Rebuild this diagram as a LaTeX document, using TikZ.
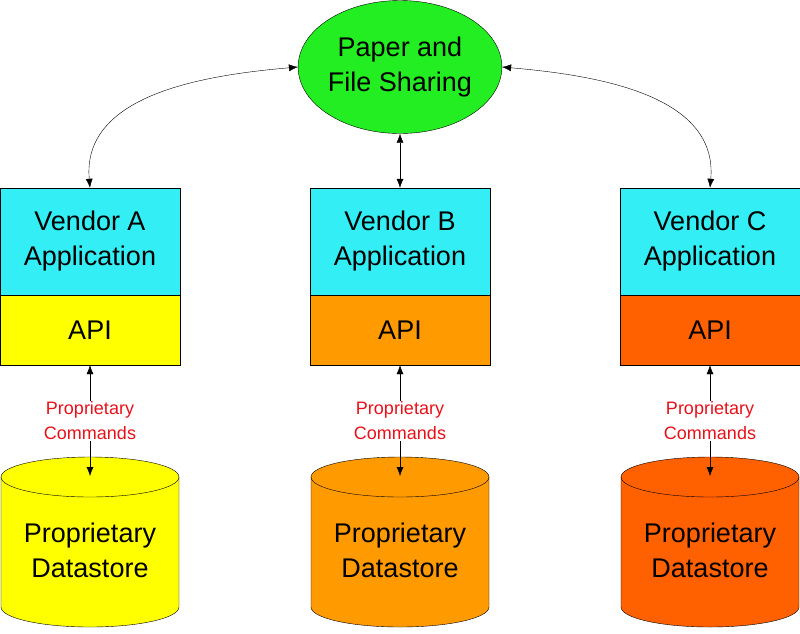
\documentclass[tikz,border=0pt]{standalone}
\usepackage{fontspec}
\setmainfont{Liberation Sans}
\usetikzlibrary{arrows.meta,shapes.geometric}
\definecolor{sharegreen}{HTML}{22EE22}
\definecolor{appcyan}{HTML}{33EEF4}
\definecolor{vendA}{HTML}{FFFF00}
\definecolor{vendB}{HTML}{FF9A00}
\definecolor{vendC}{HTML}{FF6000}
\definecolor{cmdred}{HTML}{E8101A}
\tikzset{
  big/.style={font=\fontsize{27}{35}\selectfont},
  appbox/.style={draw, fill=appcyan, minimum width=180, minimum height=107, inner sep=0, align=center, big},
  apibox/.style={draw, minimum width=180, minimum height=70, inner sep=0, big},
  cmd/.style={text=cmdred, align=center, inner sep=1pt, font=\fontsize{18}{25}\selectfont},
  arr/.style={-{Latex[length=9pt,width=7pt]}, thin},
  darr/.style={{Latex[length=9pt,width=7pt]}-{Latex[length=9pt,width=7pt]}, thin}
}
\begin{document}
\begin{tikzpicture}[x=1pt,y=1pt]
\useasboundingbox (0,0) rectangle (800,-633);
%\draw[help lines] (0,0) grid[step=50] (800,-633);

\node[ellipse, draw, fill=sharegreen, minimum width=200, minimum height=133, inner sep=0, align=center, big] (share) at (400,-67) {Paper and\\File Sharing};

\foreach \n/\x/\c in {A/90/vendA, B/400/vendB, C/710/vendC}{
  \node[appbox] (app\n) at (\x,-241.5) {Vendor \n\\Application};
  \node[apibox, fill=\c] (api\n) at (\x,-330) {API};
  \node[cmd] (cmd\n) at (\x,-421) {Proprietary\\Commands};
  % datastore
  \filldraw[fill=\c] ({\x-89},-477) -- ({\x-89},-607) arc (180:360:89 and 20)
    -- ({\x+89},-477) arc (0:180:89 and 20) -- cycle;
  \draw ({\x-89},-477) arc (180:360:89 and 20);
  \coordinate (top\n) at (\x,-476);
  \node[big, align=center] (store\n) at (\x,-550) {Proprietary\\Datastore};
  \draw[arr] (cmd\n.north) -- (api\n.south);
  \draw[arr] (cmd\n.south) -- (top\n);
}

\draw[darr] (appA.north) to[out=95,in=185] (share.west);
\draw[darr] (appB.north) -- (share.south);
\draw[darr] (appC.north) to[out=85,in=-5] (share.east);
\end{tikzpicture}
\end{document}
